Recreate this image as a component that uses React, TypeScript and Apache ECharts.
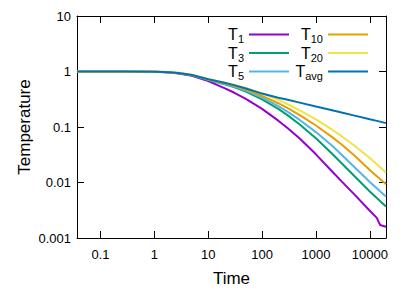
import React, { useEffect, useRef } from 'react';
import * as echarts from 'echarts';

const times = [0.0366, 0.1, 0.3, 1, 2, 3, 5, 10, 20, 30, 50, 100, 200, 300, 500, 1000, 2000, 3000, 5000, 10000, 13500, 15500, 20000];
const T1 = [1, 1, 1, 0.99, 0.96, 0.915, 0.84, 0.67, 0.5, 0.418, 0.32, 0.212, 0.13, 0.095, 0.062, 0.0322, 0.0158, 0.0105, 0.0063, 0.0031, 0.0023, 0.00172, 0.0016];
const T3 = [1, 1, 1, 0.99, 0.965, 0.925, 0.855, 0.7, 0.59, 0.524, 0.435, 0.315, 0.212, 0.162, 0.111, 0.0628, 0.0329, 0.0222, 0.0135, 0.0069, 0.00527, 0.00466, 0.0037];
const T5 = [1, 1, 1, 0.99, 0.967, 0.93, 0.86, 0.71, 0.602, 0.538, 0.452, 0.339, 0.237, 0.187, 0.134, 0.081, 0.0458, 0.0317, 0.0196, 0.0102, 0.00787, 0.00698, 0.0056];
const T10 = [1, 1, 1, 0.99, 0.968, 0.932, 0.865, 0.72, 0.615, 0.553, 0.472, 0.365, 0.268, 0.218, 0.164, 0.1065, 0.0658, 0.0484, 0.0315, 0.01675, 0.013, 0.01153, 0.0093];
const T20 = [1, 1, 1, 1, 0.985, 0.945, 0.875, 0.735, 0.635, 0.58, 0.506, 0.404, 0.308, 0.257, 0.2, 0.1368, 0.0894, 0.0683, 0.0475, 0.0277, 0.0213, 0.0189, 0.0151];
const Tavg = [1, 1, 0.998, 0.988, 0.965, 0.93, 0.865, 0.725, 0.625, 0.568, 0.495, 0.4, 0.336, 0.309, 0.275, 0.234, 0.2, 0.182, 0.162, 0.138, 0.129, 0.125, 0.1175];

const seriesNames = ['T1', 'T3', 'T5', 'T10', 'T20', 'Tavg'];
const seriesValues = [T1, T3, T5, T10, T20, Tavg];
const colors = ['#9400d3', '#009e73', '#56b4e9', '#e69f00', '#f0e442', '#0072b2'];
const legendCol1 = ['T1', 'T3', 'T5'];
const legendCol2 = ['T10', 'T20', 'Tavg'];

const xTickExps = [-1, 0, 1, 2, 3, 4];
const xTickLabels = ['0.1', '1', '10', '100', '1000', '10000'];
const yTickExps = [-3, -2, -1, 0, 1];
const yTickLabels = ['0.001', '0.01', '0.1', '1', '10'];

const xMin = 0.0366;
const xMax = 20000;
const yMin = 0.001;
const yMax = 10;

export default function App() {
  const ref = useRef<HTMLDivElement>(null);
  useEffect(() => {
    const chart = echarts.init(ref.current!, null, { renderer: 'svg' });
    const font = "'Liberation Sans', Arial, Helvetica, sans-serif";
    const fmt = (exps: number[], labels: string[]) => (v: number) => {
      const l = Math.log10(v);
      const e = Math.round(l);
      const i = exps.indexOf(e);
      return i >= 0 && Math.abs(l - e) < 1e-6 ? labels[i] : '';
    };
    const axisCommon: any = {
      type: 'log',
      logBase: 10,
      axisLine: { show: true, onZero: false, lineStyle: { color: '#000', width: 1 } },
      axisTick: { show: true, inside: true, length: 7, lineStyle: { color: '#000', width: 1 } },
      splitLine: { show: false },
      minorTick: { show: false },
      minorSplitLine: { show: false },
      nameMoveOverlap: false,
    };
    const legendFormatter = (name: string) => `{t|T}{s|${name.slice(1)}}`;
    const legendRich = {
      t: { fontSize: 16, lineHeight: 16, verticalAlign: 'top', color: '#000', fontFamily: font },
      s: { fontSize: 11, lineHeight: 12, padding: [7, 0, 0, 0], verticalAlign: 'top', color: '#000', fontFamily: font },
    };
    const legendCommon: any = {
      orient: 'vertical',
      align: 'right',
      top: 26.5,
      icon: 'rect',
      itemWidth: 40,
      itemHeight: 2,
      itemGap: 0.5,
      padding: 0,
      selectedMode: false,
      formatter: legendFormatter,
      textStyle: { color: '#000', fontFamily: font, rich: legendRich },
    };
    chart.setOption({
      animation: false,
      backgroundColor: '#fff',
      textStyle: { fontFamily: font },
      grid: { left: 77, right: 29, top: 16, bottom: 53, containLabel: false, outerBoundsMode: 'none' },
      legend: [
        { ...legendCommon, data: legendCol1, right: 126 },
        { ...legendCommon, data: legendCol2, right: 47 },
      ],
      xAxis: [
        {
          ...axisCommon,
          position: 'bottom',
          min: xMin,
          max: xMax,
          axisLabel: { formatter: fmt(xTickExps, xTickLabels), fontSize: 13, color: '#000', margin: 10, fontFamily: font, showMinLabel: false, showMaxLabel: false },
          name: 'Time',
          nameLocation: 'middle',
          nameGap: 32,
          nameTextStyle: { fontSize: 17, color: '#000', fontFamily: font },
        },
        { ...axisCommon, position: 'top', min: xMin, max: xMax, axisLabel: { show: false } },
      ],
      yAxis: [
        {
          ...axisCommon,
          position: 'left',
          min: yMin,
          max: yMax,
          axisLabel: { formatter: fmt(yTickExps, yTickLabels), fontSize: 13, color: '#000', margin: 6, fontFamily: font },
          name: 'Temperature',
          nameLocation: 'middle',
          nameRotate: 90,
          nameGap: 44,
          nameTextStyle: { fontSize: 17, color: '#000', fontFamily: font },
        },
        { ...axisCommon, position: 'right', min: yMin, max: yMax, axisLabel: { show: false } },
      ],
      series: seriesNames.map((n, i) => ({
        name: n,
        type: 'line',
        xAxisIndex: 0,
        yAxisIndex: 0,
        data: times.map((t, j) => [t, seriesValues[i][j]]),
        symbol: 'none',
        showSymbol: false,
        smooth: false,
        lineStyle: { width: 2, color: colors[i] },
        itemStyle: { color: colors[i] },
        z: 2 + i,
      })),
    });
    return () => chart.dispose();
  }, []);
  return <div ref={ref} style={{ position: 'fixed', left: 0, top: 0, width: 415, height: 291 }} />;
}
